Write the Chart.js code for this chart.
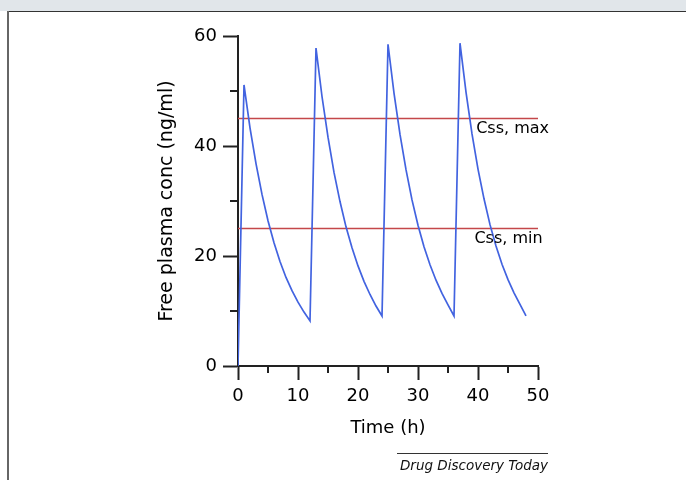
<!DOCTYPE html>
<html>
<head>
<meta charset="utf-8">
<script src="https://cdn.jsdelivr.net/npm/chart.js@4.4.0/dist/chart.umd.min.js"></script>
<style>
  body { margin: 0; background: #fff; }
  #band { position: absolute; left: 0; top: 0; width: 686px; height: 11px; background: #e1e6ea; }
  #frameTop { position: absolute; left: 7px; top: 11px; width: 679px; height: 1px; background: #333; }
  #frameLeft { position: absolute; left: 7px; top: 11px; width: 2px; height: 469px; background: #666; }
  #chart { position: absolute; left: 0; top: 0; }
  #source { position: absolute; left: 397px; top: 453px; width: 151px; border-top: 1px solid #333;
            font: italic 13.5px "DejaVu Sans"; text-align: right; padding-top: 3px; color: #111; white-space: nowrap; }
</style>
</head>
<body>
<div id="band"></div>
<div id="frameTop"></div>
<div id="frameLeft"></div>
<canvas id="chart" width="686" height="480"></canvas>
<div id="source">Drug Discovery Today</div>
<script>
// time in hours, one point per hour
const hours = [0,
  1, 2, 3, 4, 5, 6, 7, 8, 9, 10, 11, 12,
  13, 14, 15, 16, 17, 18, 19, 20, 21, 22, 23, 24,
  25, 26, 27, 28, 29, 30, 31, 32, 33, 34, 35, 36,
  37, 38, 39, 40, 41, 42, 43, 44, 45, 46, 47, 48];
// free plasma conc (ng/ml)
const conc = [0,
  51.1, 43.3, 36.8, 31.2, 26.4, 22.4, 19.0, 16.1, 13.7, 11.6, 9.8, 8.2,
  57.8, 49.0, 41.6, 35.2, 29.9, 25.3, 21.5, 18.2, 15.4, 13.0, 10.9, 9.1,
  58.5, 49.6, 42.1, 35.7, 30.2, 25.6, 21.7, 18.4, 15.6, 13.2, 11.1, 9.1,
  58.7, 49.8, 42.2, 35.8, 30.4, 25.7, 21.8, 18.5, 15.7, 13.3, 11.2, 9.1];
const cssMax = 45;
const cssMin = 25;
const timeRange = [0, 50];
const refLabels = ['Css, max', 'Css, min'];

const tickFont = { family: 'DejaVu Sans', size: 18 };
const axisColor = '#222';

// short ticks between the labelled ones
const minorTicks = {
  id: 'minorTicks',
  afterDraw(chart) {
    const ctx = chart.ctx;
    const xs = chart.scales.x, ys = chart.scales.y;
    ctx.save();
    ctx.strokeStyle = axisColor;
    ctx.lineWidth = 2;
    xs.ticks.forEach(t => {
      if (t.value % 10 !== 0) {
        const px = Math.round(xs.getPixelForValue(t.value));
        ctx.beginPath();
        ctx.moveTo(px, ys.bottom);
        ctx.lineTo(px, ys.bottom + 7);
        ctx.stroke();
      }
    });
    ys.ticks.forEach(t => {
      if (t.value % 20 !== 0) {
        const py = Math.round(ys.getPixelForValue(t.value));
        ctx.beginPath();
        ctx.moveTo(xs.left - 8, py);
        ctx.lineTo(xs.left, py);
        ctx.stroke();
      }
    });
    ctx.restore();
  }
};

// Css labels under the reference lines
const refText = {
  id: 'refText',
  afterDatasetsDraw(chart) {
    const ctx = chart.ctx;
    const xs = chart.scales.x, ys = chart.scales.y;
    ctx.save();
    ctx.font = '16px "DejaVu Sans"';
    ctx.fillStyle = '#000';
    ctx.textAlign = 'left';
    ctx.textBaseline = 'middle';
    ctx.fillText(refLabels[0], xs.getPixelForValue(39.7), ys.getPixelForValue(43.1));
    ctx.fillText(refLabels[1], xs.getPixelForValue(39.4), ys.getPixelForValue(23.2));
    ctx.restore();
  }
};

new Chart(document.getElementById('chart'), {
  type: 'line',
  data: {
    datasets: [
      {
        data: hours.map((h, i) => ({ x: h, y: conc[i] })),
        borderColor: '#4263e0',
        borderWidth: 1.7,
        pointRadius: 0,
        tension: 0
      },
      {
        data: timeRange.map(t => ({ x: t, y: cssMax })),
        borderColor: '#c4474a',
        borderWidth: 1.6,
        pointRadius: 0
      },
      {
        data: timeRange.map(t => ({ x: t, y: cssMin })),
        borderColor: '#c4474a',
        borderWidth: 1.6,
        pointRadius: 0
      }
    ]
  },
  options: {
    responsive: false,
    animation: false,
    layout: { padding: { left: 156, right: 148, top: 36, bottom: 41 } },
    plugins: { legend: { display: false }, tooltip: { enabled: false } },
    scales: {
      x: {
        type: 'linear',
        min: 0, max: 50,
        afterFit: s => { s.height = 73; },
        border: { display: true, color: axisColor, width: 2 },
        grid: {
          drawOnChartArea: false, drawTicks: true, tickLength: 14, tickWidth: 2,
          tickColor: c => (c.tick && c.tick.value % 10 === 0) ? axisColor : 'transparent'
        },
        ticks: {
          stepSize: 5, padding: 6, color: '#000', font: tickFont, maxRotation: 0,
          callback: v => v % 10 === 0 ? v : ''
        },
        title: { display: true, text: 'Time (h)', color: '#000', font: tickFont, padding: 0 }
      },
      y: {
        min: 0, max: 60,
        afterFit: s => { s.width = 82; },
        border: { display: true, color: axisColor, width: 2 },
        grid: {
          drawOnChartArea: false, drawTicks: true, tickLength: 15, tickWidth: 2,
          tickColor: c => (c.tick && c.tick.value % 20 === 0) ? axisColor : 'transparent'
        },
        ticks: {
          stepSize: 10, padding: 6, color: '#000', font: tickFont,
          callback: v => v % 20 === 0 ? v : ''
        },
        title: { display: true, text: 'Free plasma conc (ng/ml)', color: '#000',
                 font: { family: 'DejaVu Sans', size: 19 }, padding: 0 }
      }
    }
  },
  plugins: [minorTicks, refText]
});
</script>
</body>
</html>
